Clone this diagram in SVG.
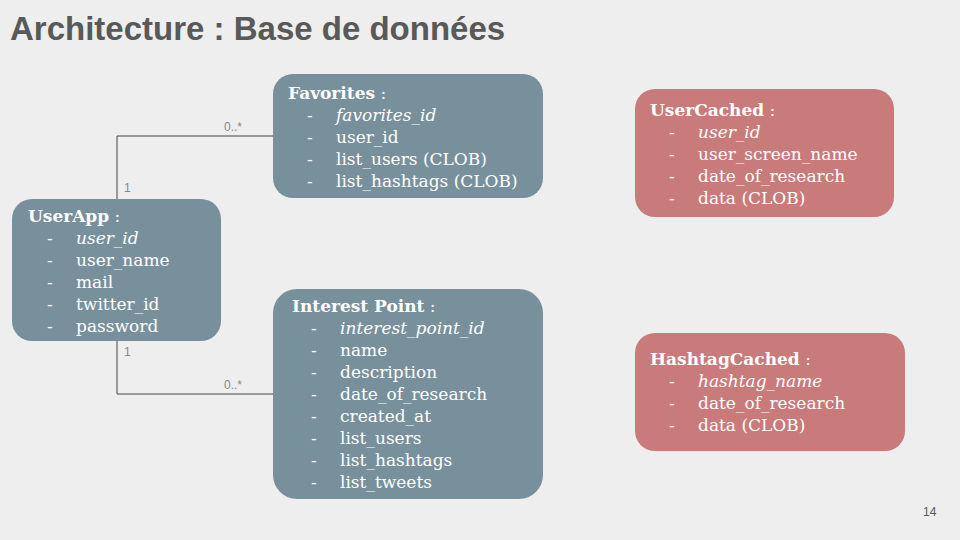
<svg xmlns="http://www.w3.org/2000/svg" width="960" height="540" viewBox="0 0 960 540">
<style>
.bg{fill:#eeeeee}
.blue{fill:#78909c}
.red{fill:#c97a7a}
.t{font-family:"DejaVu Serif","Liberation Serif",serif;font-size:17px;fill:#ffffff}
.h{font-weight:bold}
.i{font-style:italic}
.lbl{font-family:"Liberation Sans",Arial,sans-serif;font-size:12px;fill:#888888}
.conn{fill:none;stroke:#444444;stroke-width:1}
.title{font-family:"Liberation Sans",Arial,sans-serif;font-weight:bold;font-size:33px;fill:#595959}
</style>
<rect class="bg" x="0" y="0" width="960" height="540"/>
<text class="title" x="10" y="40">Architecture : Base de données</text>
<g id="connectors">
<polyline class="conn" points="117,199 117,136 273,136"/>
<polyline class="conn" points="117,341 117,394 273,394"/>
<text class="lbl" x="224" y="131">0..*</text>
<text class="lbl" x="124" y="192">1</text>
<text class="lbl" x="124" y="356">1</text>
<text class="lbl" x="224" y="389">0..*</text>
</g>
<g id="favorites">
<rect class="blue" x="273" y="74" width="270" height="124" rx="20"/>
<text class="t" x="288" y="99"><tspan class="h">Favorites</tspan> :</text>
<text class="t" x="307" y="121">-</text><text class="t i" x="336" y="121">favorites_id</text>
<text class="t" x="307" y="143">-</text><text class="t" x="336" y="143">user_id</text>
<text class="t" x="307" y="165">-</text><text class="t" x="336" y="165">list_users (CLOB)</text>
<text class="t" x="307" y="187">-</text><text class="t" x="336" y="187">list_hashtags (CLOB)</text>
</g>
<g id="userapp">
<rect class="blue" x="12" y="199" width="209" height="142" rx="20"/>
<text class="t" x="28" y="222"><tspan class="h">UserApp</tspan> :</text>
<text class="t" x="47" y="244">-</text><text class="t i" x="76" y="244">user_id</text>
<text class="t" x="47" y="266">-</text><text class="t" x="76" y="266">user_name</text>
<text class="t" x="47" y="288">-</text><text class="t" x="76" y="288">mail</text>
<text class="t" x="47" y="310">-</text><text class="t" x="76" y="310">twitter_id</text>
<text class="t" x="47" y="332">-</text><text class="t" x="76" y="332">password</text>
</g>
<g id="interestpoint">
<rect class="blue" x="273" y="289" width="270" height="210" rx="24"/>
<text class="t" x="292" y="312"><tspan class="h">Interest Point</tspan> :</text>
<text class="t" x="311" y="334">-</text><text class="t i" x="340" y="334">interest_point_id</text>
<text class="t" x="311" y="356">-</text><text class="t" x="340" y="356">name</text>
<text class="t" x="311" y="378">-</text><text class="t" x="340" y="378">description</text>
<text class="t" x="311" y="400">-</text><text class="t" x="340" y="400">date_of_research</text>
<text class="t" x="311" y="422">-</text><text class="t" x="340" y="422">created_at</text>
<text class="t" x="311" y="444">-</text><text class="t" x="340" y="444">list_users</text>
<text class="t" x="311" y="466">-</text><text class="t" x="340" y="466">list_hashtags</text>
<text class="t" x="311" y="488">-</text><text class="t" x="340" y="488">list_tweets</text>
</g>
<g id="usercached">
<rect class="red" x="635" y="89" width="259" height="128" rx="20"/>
<text class="t" x="650" y="116"><tspan class="h">UserCached</tspan> :</text>
<text class="t" x="669" y="138">-</text><text class="t i" x="698" y="138">user_id</text>
<text class="t" x="669" y="160">-</text><text class="t" x="698" y="160">user_screen_name</text>
<text class="t" x="669" y="182">-</text><text class="t" x="698" y="182">date_of_research</text>
<text class="t" x="669" y="204">-</text><text class="t" x="698" y="204">data (CLOB)</text>
</g>
<g id="hashtagcached">
<rect class="red" x="635" y="333" width="270" height="118" rx="20"/>
<text class="t" x="650" y="365"><tspan class="h">HashtagCached</tspan> :</text>
<text class="t" x="669" y="387">-</text><text class="t i" x="698" y="387">hashtag_name</text>
<text class="t" x="669" y="409">-</text><text class="t" x="698" y="409">date_of_research</text>
<text class="t" x="669" y="431">-</text><text class="t" x="698" y="431">data (CLOB)</text>
</g>
<text x="923" y="516" font-family="Liberation Sans, Arial, sans-serif" font-size="12" fill="#595959">14</text>
</svg>
